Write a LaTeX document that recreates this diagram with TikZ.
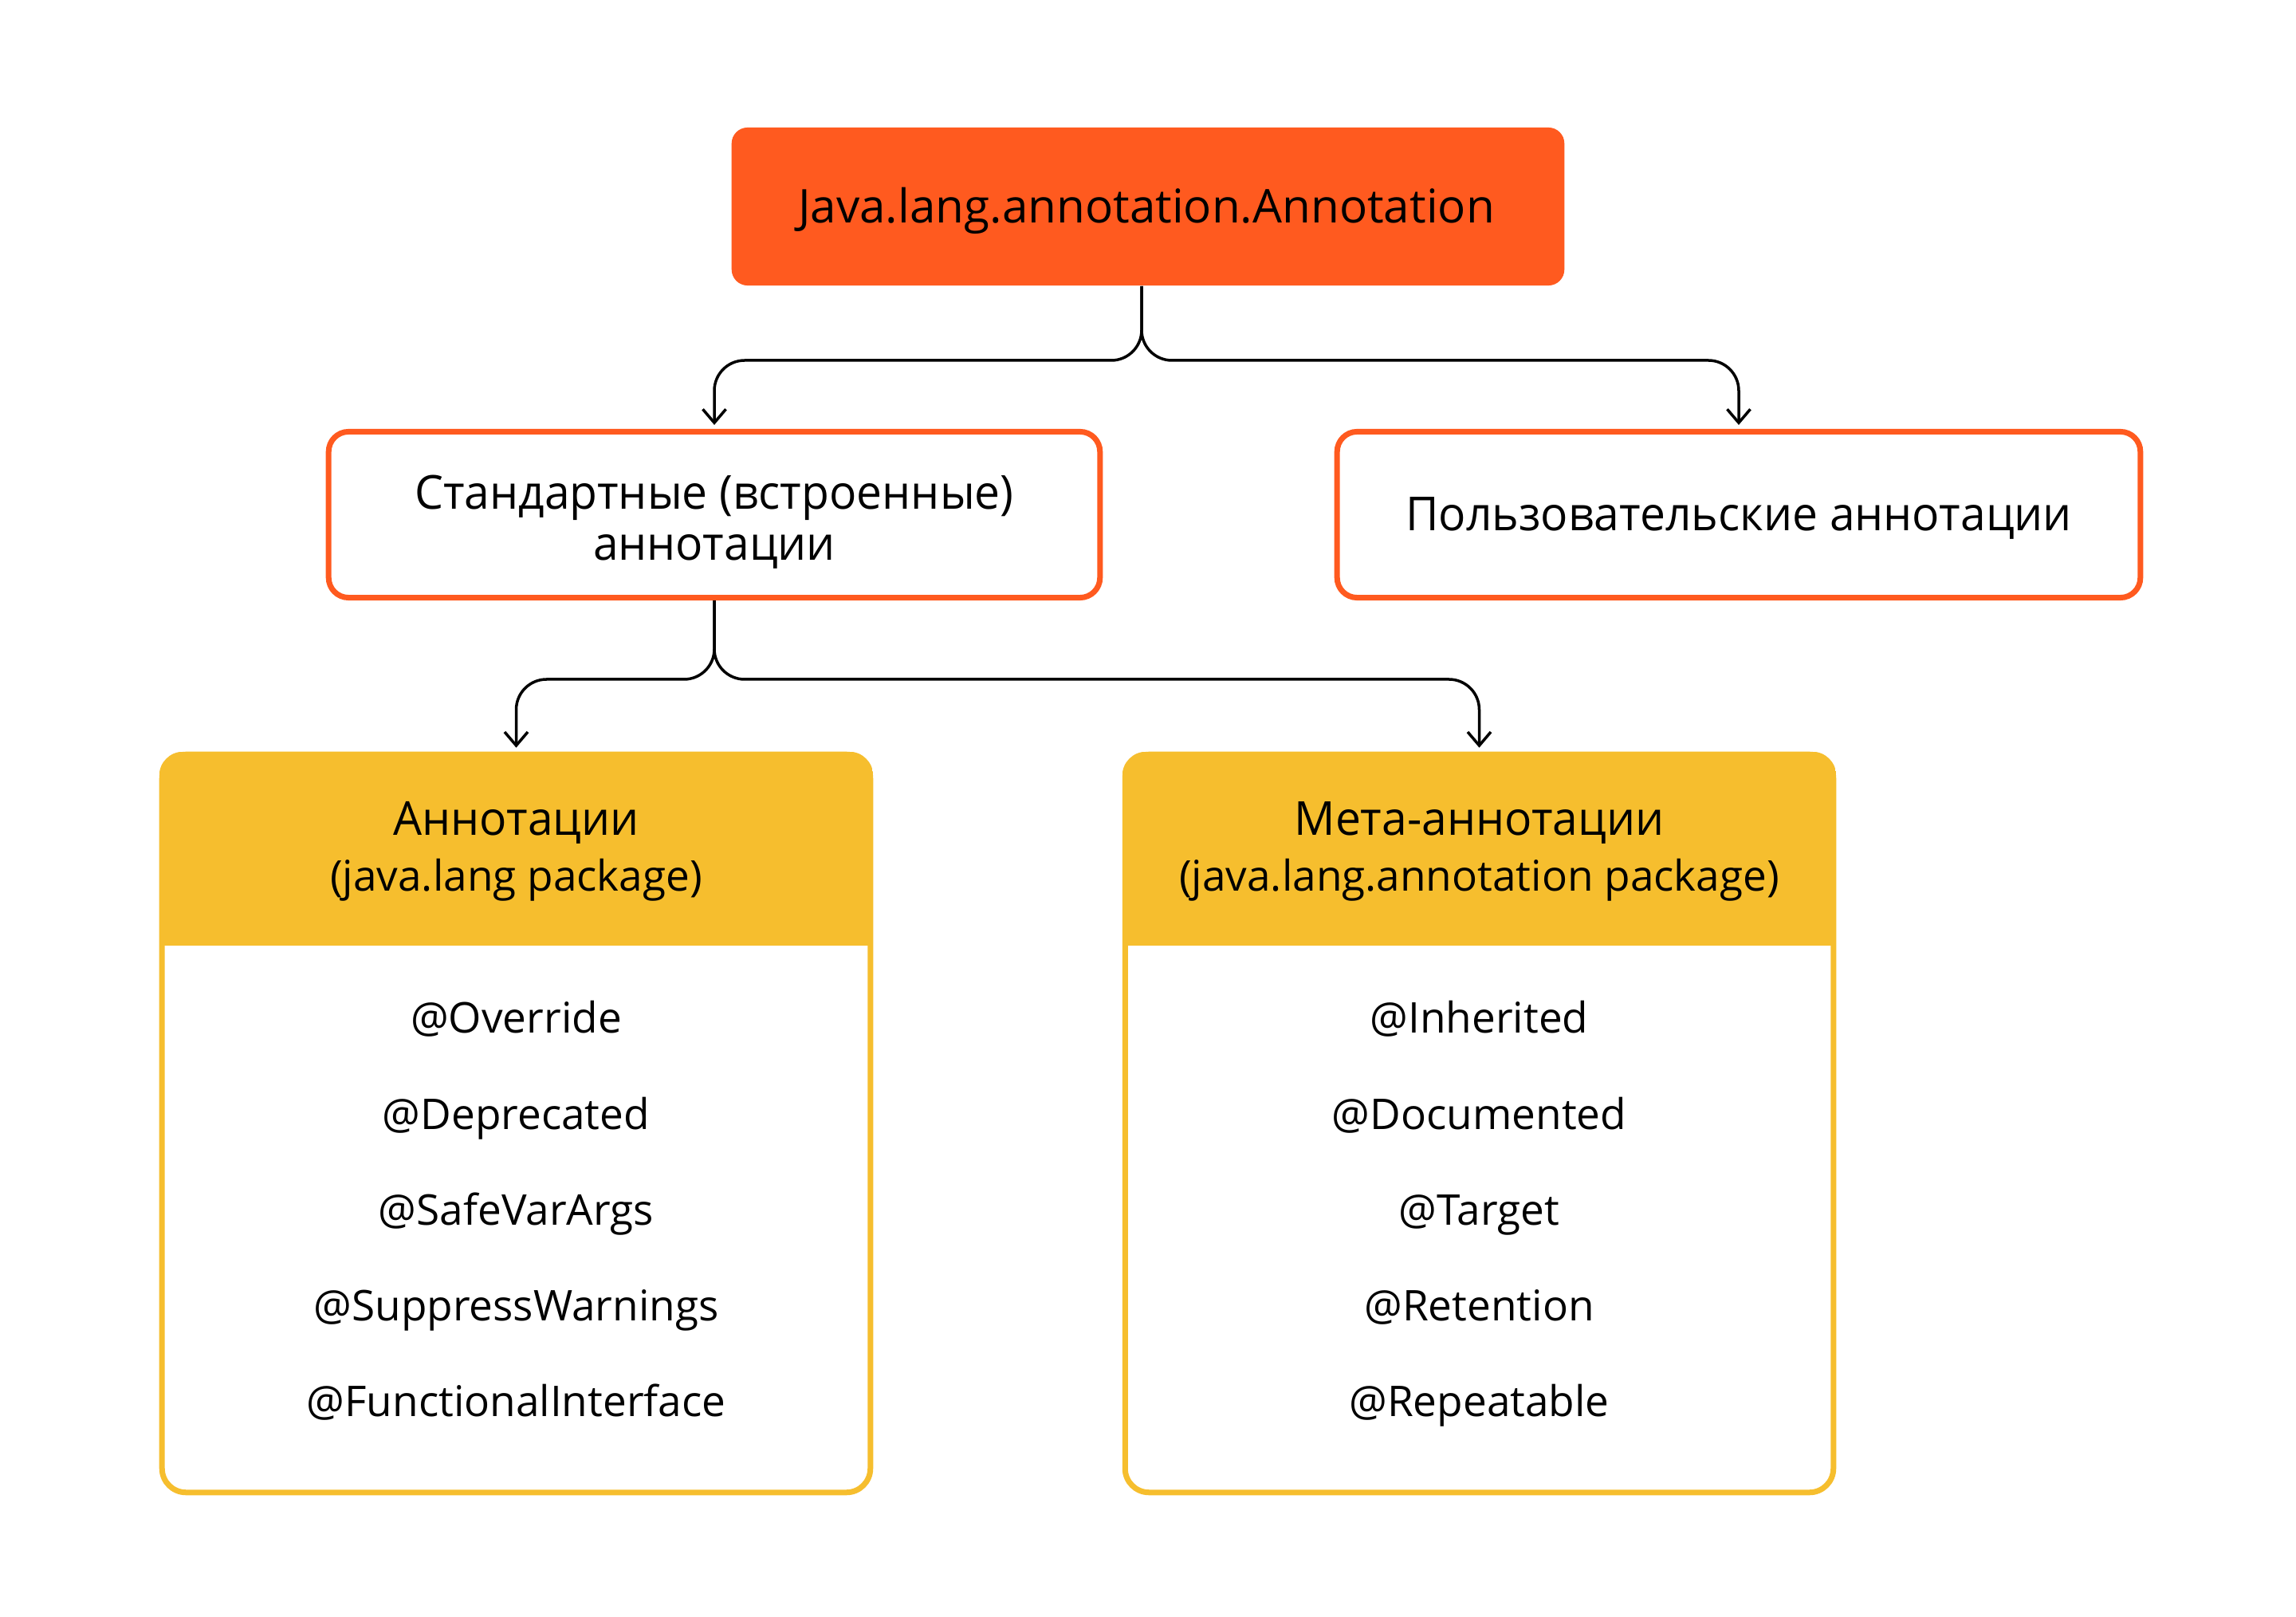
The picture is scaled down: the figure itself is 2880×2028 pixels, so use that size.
\documentclass[tikz,border=0pt]{standalone}
\usepackage{fontspec}
\setmainfont{Open Sans}
\newfontfamily\cyrfont{Open Sans}[FakeStretch=0.97]
\usetikzlibrary{arrows.meta,calc}
\definecolor{orng}{HTML}{FF5A1F}
\definecolor{yel}{HTML}{F6BE2E}
\tikzset{
  bigtxt/.style={anchor=base,inner sep=0pt,font=\fontsize{16.6pt}{19pt}\selectfont},
  cyrtxt/.style={anchor=base,inner sep=0pt,font=\cyrfont\fontsize{16.7pt}{19pt}\selectfont},
  smalltxt/.style={anchor=base,inner sep=0pt,font=\fontsize{15.1pt}{18pt}\selectfont},
  topbox/.style={rectangle,fill=orng,rounded corners=0.2cm,minimum width=10.44cm,minimum height=1.98cm,inner sep=0pt},
  midbox/.style={rectangle,draw=orng,fill=white,line width=0.07cm,rounded corners=0.25cm,minimum height=2.08cm,inner sep=0pt},
  catbox/.style={rectangle,draw=yel,fill=white,line width=0.07cm,rounded corners=0.3cm,minimum width=8.88cm,minimum height=9.25cm,inner sep=0pt},
  conn/.style={draw=black,line width=0.035cm,rounded corners=0.38cm,-{Straight Barb[length=0.17cm,width=0.29cm,line width=0.035cm]}},
}
\begin{document}
\begin{tikzpicture}[x=0.01cm,y=-0.01cm]
\useasboundingbox[fill=white] (0,0) rectangle (2880,2028);

% boxes
\node[topbox] (top) at (1440,259) {};
\node[midbox,minimum width=9.67cm] (std) at (896,645.5) {};
\node[midbox,minimum width=10.07cm] (usr) at (2181,645.5) {};
\node[catbox] (lang) at (647.5,1409) {};
\node[catbox] (meta) at (1855.5,1409) {};

% headers of the category boxes
\begin{scope}
  \clip[rounded corners=0.3cm] (lang.north west) rectangle (lang.south east);
  \fill[yel] (lang.north west) rectangle ([yshift=-2.43cm]lang.north east);
\end{scope}
\begin{scope}
  \clip[rounded corners=0.3cm] (meta.north west) rectangle (meta.south east);
  \fill[yel] (meta.north west) rectangle ([yshift=-2.43cm]meta.north east);
\end{scope}

% texts
\node[bigtxt] (ttop) at (1438,280) {Java.lang.annotation.Annotation};
\node[cyrtxt] (tstd1) at (896,639) {Стандартные (встроенные)};
\node[cyrtxt] (tstd2) at (896,703) {аннотации};
\node[cyrtxt] (tusr) at (2181,666) {Пользовательские аннотации};
\node[cyrtxt] (tlang1) at (647.5,1048) {Аннотации};
\node[smalltxt] (tlang2) at (647.5,1118) {(java.lang package)};
\node[cyrtxt] (tmeta1) at (1855.5,1048) {Мета-аннотации};
\node[smalltxt] (tmeta2) at (1855.5,1118) {(java.lang.annotation package)};

\node[smalltxt] (l1) at (647.5,1296) {@Override};
\node[smalltxt] (l2) at (647.5,1416) {@Deprecated};
\node[smalltxt] (l3) at (647.5,1536) {@SafeVarArgs};
\node[smalltxt] (l4) at (647.5,1656) {@SuppressWarnings};
\node[smalltxt] (l5) at (647.5,1776) {@FunctionalInterface};

\node[smalltxt] (m1) at (1855.5,1296) {@Inherited};
\node[smalltxt] (m2) at (1855.5,1416) {@Documented};
\node[smalltxt] (m3) at (1855.5,1536) {@Target};
\node[smalltxt] (m4) at (1855.5,1656) {@Retention};
\node[smalltxt] (m5) at (1855.5,1776) {@Repeatable};

% connectors
\coordinate (s1) at ([xshift=-0.08cm]top.south);
\coordinate (h1) at (0,452);
\coordinate (h2) at (0,852);
\coordinate (tipstd) at ([yshift=0.05cm]std.north);
\coordinate (tipusr) at ([yshift=0.05cm]usr.north);
\coordinate (tiplang) at ([yshift=0.05cm]lang.north);
\coordinate (tipmeta) at ([yshift=0.05cm]meta.north);

\draw[conn] (s1) -- (s1 |- h1) -- (tipstd |- h1) -- (tipstd);
\draw[conn] (s1) -- (s1 |- h1) -- (tipusr |- h1) -- (tipusr);
\draw[conn] (std.south) -- (std.south |- h2) -- (tiplang |- h2) -- (tiplang);
\draw[conn] (std.south) -- (std.south |- h2) -- (tipmeta |- h2) -- (tipmeta);
\end{tikzpicture}
\end{document}
